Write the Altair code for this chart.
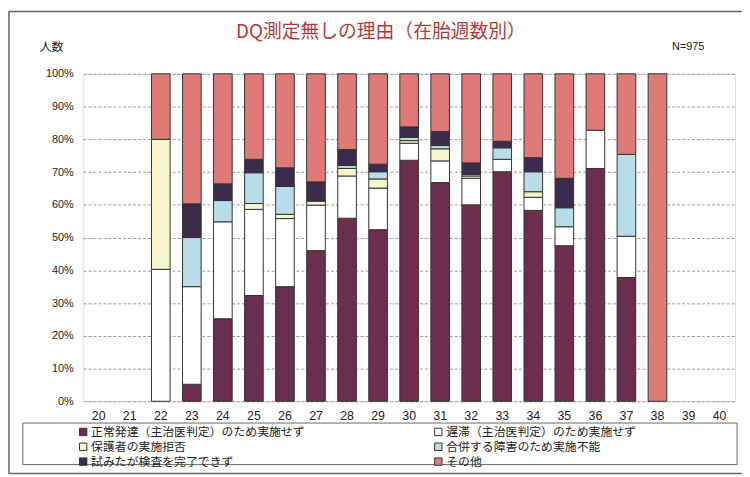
import altair as alt
import pandas as pd

weeks = [str(w) for w in range(20, 41)]

series = [
    "正常発達（主治医判定）のため実施せず",
    "遅滞（主治医判定）のため実施せず",
    "保護者の実施拒否",
    "合併する障害のため実施不能",
    "試みたが検査を完了できず",
    "その他",
]
colors = ["#6B2E4F", "#FFFFFF", "#F7F7CC", "#B8DCE8", "#3D2B4B", "#E07A78"]

# legend is filled column by column: left column then right column
legend_order = [0, 2, 4, 1, 3, 5]

#            20 21  22    23    24    25    26    27    28    29    30    31    32    33    34    35    36    37   38  39 40
normal   = [0, 0, 0.0, 5.2, 25.2, 32.3, 35.0, 46.0, 55.9, 52.4, 73.6, 66.8, 60.0, 70.1, 58.3, 47.5, 71.1, 37.8, 0, 0, 0]
delay    = [0, 0, 40.3, 29.8, 29.6, 26.3, 20.8, 13.9, 12.9, 12.7, 5.2, 6.6, 8.1, 3.8, 4.0, 5.8, 11.7, 12.6, 0, 0, 0]
refusal  = [0, 0, 39.7, 0.0, 0.0, 1.8, 1.3, 1.2, 2.3, 2.8, 0.8, 3.7, 0.7, 0.0, 1.7, 0.0, 0.0, 0.0, 0, 0, 0]
disorder = [0, 0, 0.0, 15.0, 6.5, 9.4, 8.5, 0.0, 0.9, 2.2, 1.0, 1.0, 0.5, 3.5, 6.1, 5.8, 0.0, 25.0, 0, 0, 0]
failed   = [0, 0, 0.0, 10.3, 5.1, 4.1, 5.7, 5.9, 4.9, 2.3, 3.2, 4.3, 3.5, 2.0, 4.3, 9.0, 0.0, 0.0, 0, 0, 0]
other    = [0, 0, 20.0, 39.7, 33.6, 26.1, 28.7, 33.0, 23.1, 27.6, 16.2, 17.6, 27.2, 20.6, 25.6, 31.9, 17.2, 24.6, 100, 0, 0]

values = [normal, delay, refusal, disorder, failed, other]

rows = []
for si, (name, vals) in enumerate(zip(series, values)):
    for w, v in zip(weeks, vals):
        if v > 0:
            rows.append({"week": w, "reason": name, "pct": v, "order": si})
df = pd.DataFrame(rows)

JP = "Noto Sans CJK JP"
NUM = "Liberation Sans"

bars = alt.Chart(df).mark_bar(stroke="#333333", strokeWidth=1).encode(
    x=alt.X(
        "week:N",
        sort=weeks,
        scale=alt.Scale(domain=weeks, paddingInner=0.4, paddingOuter=0.2),
        axis=alt.Axis(title=None, labelAngle=0, domain=False, ticks=False,
                      labelPadding=8, labelFontSize=12.5, labelFont=NUM,
                      labelColor="#222222", grid=False),
    ),
    y=alt.Y(
        "pct:Q",
        stack="zero",
        scale=alt.Scale(domain=[0, 100], nice=False),
        axis=alt.Axis(title=None, values=list(range(0, 101, 10)),
                      labelExpr="datum.value + '%'", domain=False, ticks=False,
                      labelPadding=10, labelFontSize=11, labelFont=NUM,
                      labelColor="#222222", grid=True, gridColor="#999999",
                      gridDash=[3, 2], gridWidth=1),
    ),
    color=alt.Color(
        "reason:N",
        scale=alt.Scale(domain=[series[i] for i in legend_order],
                        range=[colors[i] for i in legend_order]),
        legend=alt.Legend(
            title=None, orient="none", legendX=-6, legendY=356, columns=2,
            columnPadding=128, rowPadding=3, symbolType="square", symbolSize=56,
            symbolStrokeColor="#333333", symbolStrokeWidth=1, labelFontSize=12,
            labelFont=JP, labelColor="#222222", labelLimit=400, labelOffset=2,
            symbolOpacity=1,
        ),
    ),
    order=alt.Order("order:Q"),
)

title_df = pd.DataFrame({"t": ["DQ測定無しの理由（在胎週数別）"]})
title = alt.Chart(title_df).mark_text(
    font=JP, fontSize=19, color="#B03A3A", align="center", baseline="middle"
).encode(x=alt.value(301), y=alt.value(-42), text="t:N")

ylab_df = pd.DataFrame({"t": ["人数"]})
ylab = alt.Chart(ylab_df).mark_text(
    font=JP, fontSize=12, color="#222222", align="left", baseline="middle"
).encode(x=alt.value(-44), y=alt.value(-27), text="t:N")

n_df = pd.DataFrame({"t": ["N=975"]})
ntext = alt.Chart(n_df).mark_text(
    font=NUM, fontSize=11, color="#222222", align="right", baseline="middle"
).encode(x=alt.value(628), y=alt.value(-27), text="t:N")

box_df = pd.DataFrame({"k": [1]})
legend_box = alt.Chart(box_df).mark_rect(
    fillOpacity=0, stroke="#666666", strokeWidth=1
).encode(x=alt.value(-61), x2=alt.value(661), y=alt.value(353), y2=alt.value(395))

frame = alt.Chart(box_df).mark_rect(
    fillOpacity=0, stroke="#666666", strokeWidth=1.5
).encode(x=alt.value(-75), x2=alt.value(720), y=alt.value(-63), y2=alt.value(404))

chart = alt.layer(frame, legend_box, bars, title, ylab, ntext).properties(
    width=659,
    height=331,
    autosize=alt.AutoSizeParams(type="none"),
    padding={"left": 76, "top": 64, "right": 7, "bottom": 74},
).configure_view(
    stroke="#888888", strokeDash=[3, 2], strokeWidth=1
).configure(background="#FFFFFF")

chart.save("out.html", embed_options={"renderer": "svg", "actions": False})
